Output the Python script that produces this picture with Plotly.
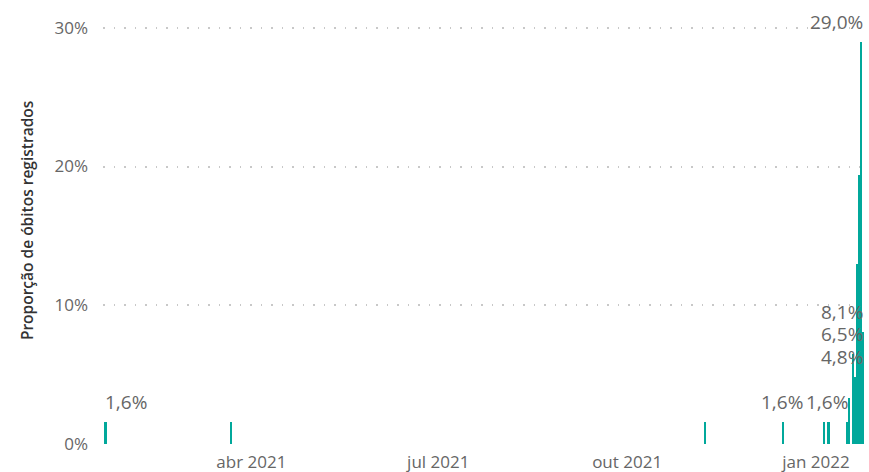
import plotly.graph_objects as go

# ---- data ----
dates = ["2021-01-20", "2021-03-22", "2021-11-08", "2021-12-16", "2022-01-05", "2022-01-07",
         "2022-01-16", "2022-01-17", "2022-01-19", "2022-01-20", "2022-01-21", "2022-01-22",
         "2022-01-23", "2022-01-24"]
values = [1.6, 1.6, 1.6, 1.6, 1.6, 1.6, 1.6, 3.3, 6.5, 4.8, 13.0, 19.4, 29.0, 8.1]
labeled_dates = ["2021-01-20", "2021-12-16", "2022-01-07", "2022-01-19", "2022-01-20",
                 "2022-01-23", "2022-01-24"]
y_tick_vals = [0, 10, 20, 30]
y_tick_text = ["0%", "10%", "20%", "30%"]
x_tick_vals = ["2021-04-01", "2021-07-01", "2021-10-01", "2022-01-01"]
x_tick_text = ["abr 2021", "jul 2021", "out 2021", "jan 2022"]
y_title = "Proporção de óbitos registrados"

# ---- style ----
BAR = "#01A89B"
TXT = "#666666"
FONT = "Open Sans"
label_align = {"2021-01-20": "left", "2021-12-16": "center", "2022-01-07": "center",
               "2022-01-19": "right", "2022-01-20": "right", "2022-01-23": "right",
               "2022-01-24": "right"}

def fmt(v):
    return f"{v:.1f}".replace(".", ",") + "%"

fig = go.Figure(go.Bar(
    x=dates, y=values, marker_color=BAR, marker_line_width=0,
    width=1.2 * 86400000, hoverinfo="x+y"))

annotations = []
for d in labeled_dates:
    v = values[dates.index(d)]
    al = label_align[d]
    a = dict(y=v, yref="y", text=fmt(v), showarrow=False, yanchor="middle", yshift=20,
             font=dict(family=FONT, size=19, color=TXT))
    if al == "left":
        a.update(x=0, xref="paper", xanchor="left", xshift=0)
    elif al == "right":
        a.update(x=1, xref="paper", xanchor="right", xshift=-2)
    else:
        a.update(x=d, xref="x", xanchor="center", xshift=-1)
    annotations.append(a)

annotations.append(dict(text=y_title, x=0, xref="paper", y=0.502, yref="paper",
                        xanchor="center", yanchor="middle", xshift=-76, textangle=-90,
                        showarrow=False,
                        font=dict(family=FONT, size=15.5, color="#333333", weight=600)))

fig.update_layout(
    width=869, height=472,
    margin=dict(l=103, r=2, t=0, b=28),
    paper_bgcolor="white", plot_bgcolor="white",
    showlegend=False, bargap=0,
    annotations=annotations,
    xaxis=dict(type="date", range=["2021-01-18 17:00", "2022-01-25 20:00"],
               tickvals=x_tick_vals, ticktext=x_tick_text, showgrid=False,
               zeroline=False, showline=False, ticks="", ticklabelstandoff=6,
               tickfont=dict(family=FONT, size=17, color=TXT)),
    yaxis=dict(range=[0, 32], tickvals=y_tick_vals, ticktext=y_tick_text,
               showgrid=True, gridcolor="#C8C8C8", gridwidth=1.5, griddash="1.5px,9px",
               zeroline=False, showline=False, ticks="", ticklabelstandoff=14,
               tickfont=dict(family=FONT, size=17, color=TXT)),
)

fig.write_html("out.html", config={"displayModeBar": False},
               post_script="document.body.style.margin='0';document.body.style.padding='0';")
